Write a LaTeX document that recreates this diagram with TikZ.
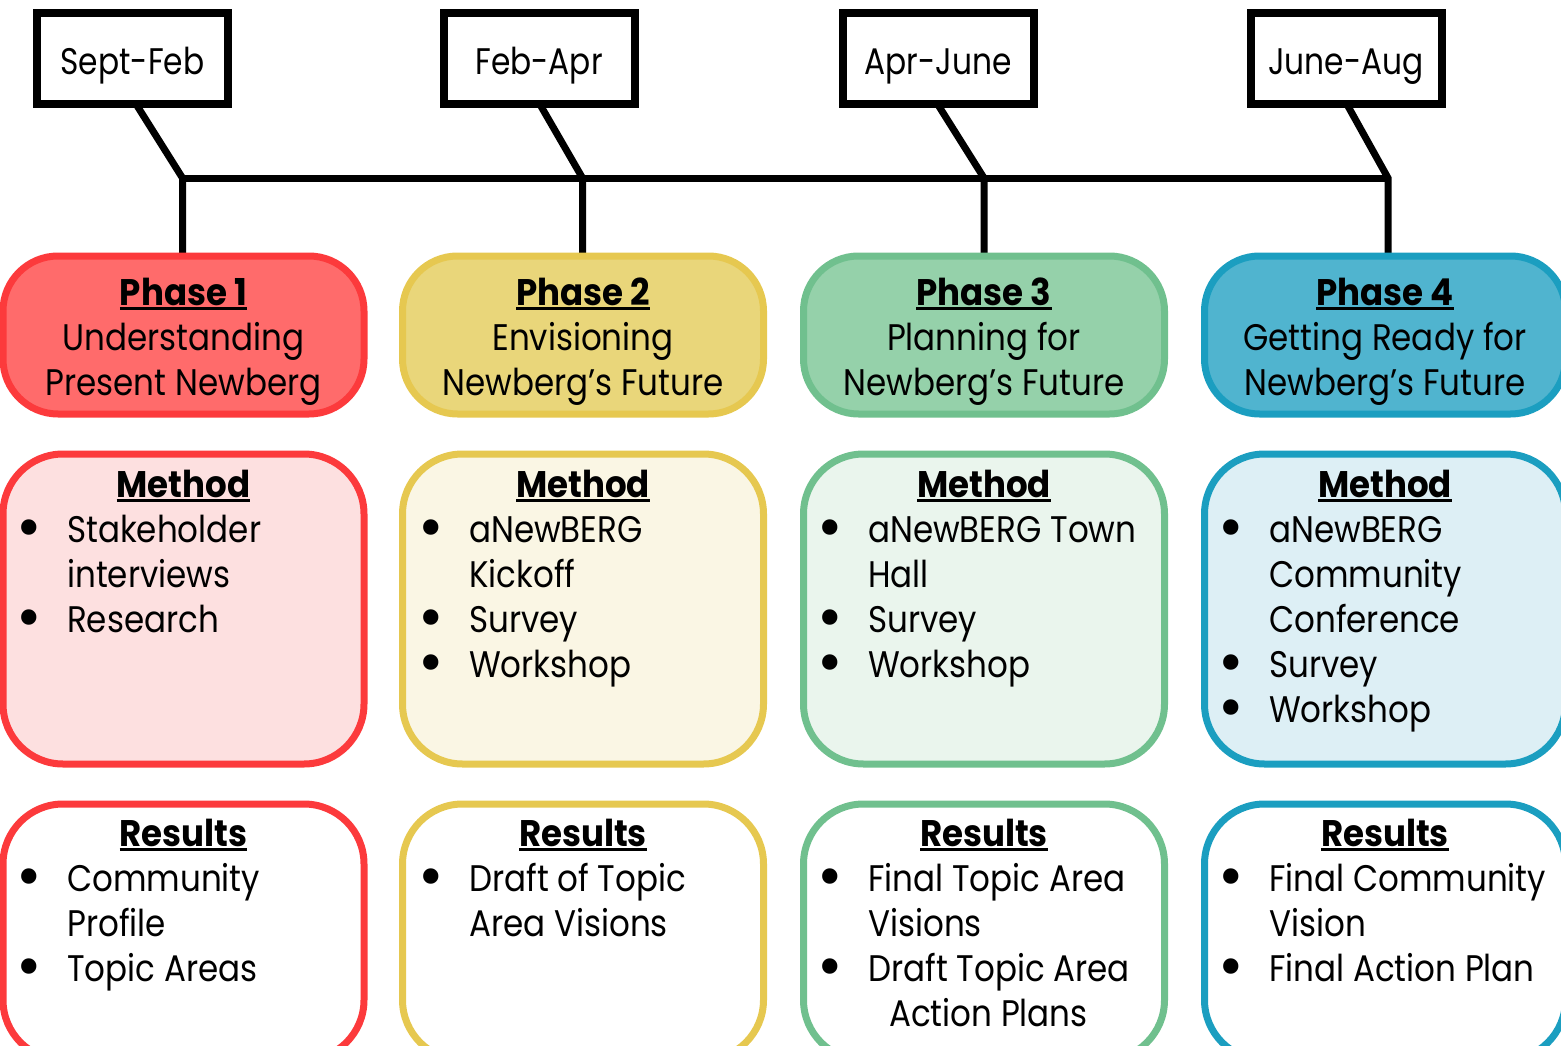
\documentclass[tikz,border=0pt]{standalone}
\usepackage{fontspec}
\setmainfont{Poppins}[FakeStretch=0.88]
\newfontfamily\hdfont{Poppins}[FakeStretch=0.92]
\newfontfamily\dtfont{Poppins}[FakeStretch=0.845]
\usetikzlibrary{calc,backgrounds}
\definecolor{bA}{HTML}{FC3A3C}\definecolor{pA}{HTML}{FF6B6B}\definecolor{mA}{HTML}{FDE0E0}
\definecolor{bB}{HTML}{E6C850}\definecolor{pB}{HTML}{E9D67A}\definecolor{mB}{HTML}{FAF6E4}
\definecolor{bC}{HTML}{70C08E}\definecolor{pC}{HTML}{95D1AA}\definecolor{mC}{HTML}{EAF5ED}
\definecolor{bD}{HTML}{1B9EC0}\definecolor{pD}{HTML}{50B4CF}\definecolor{mD}{HTML}{DDEFF5}
\newcommand\fs{\fontsize{37}{45}\selectfont}
\newcommand\ul[1]{\setbox0\hbox{#1}\rlap{\rule[-5pt]{\wd0}{3pt}}\box0}
\newcommand\bul{\llap{\smash{\makebox[0pt]{\raisebox{-6.5pt}{\scalebox{1.9}[1.7]{\textbullet}}}}\hspace{38pt}}}
\newcommand\lines[4]{\foreach \t [count=\k] in {#4} {\node[txt,anchor=base west] (#1-\k) at (#2,{#3+45*(\k-1)}) {\t};}}
\tikzset{
  box/.style={draw, line width=7pt, rounded corners=55pt, minimum width=361pt, inner sep=0pt, outer sep=0pt},
  datebox/.style={draw, line width=8pt, minimum width=191pt, minimum height=91pt, fill=white, inner sep=0pt, font=\fs\dtfont, text height=41pt, text depth=8pt},
  conn/.style={line width=7pt},
  txt/.style={inner sep=0pt, font=\fs, text height=32pt, text depth=9pt},
  head/.style={inner sep=0pt, font=\fs\hdfont\bfseries, anchor=base, text height=32pt, text depth=9pt},
}
\begin{document}
\begin{tikzpicture}[x=1pt,y=-1pt]
\useasboundingbox (0,0) rectangle (1561,1046);
\clip (0,0) rectangle (1561,1046);
% date boxes
\node[datebox] (d1) at (132.5,58.5) {Sept-Feb};
\node[datebox] (d2) at (539,58.5) {Feb-Apr};
\node[datebox] (d3) at (938,58.5) {Apr-June};
\node[datebox] (d4) at (1346,58.5) {June-Aug};
% phase boxes
\node[box, draw=bA, fill=pA, minimum height=158pt] (p1) at (183.5,335) {};
\node[box, draw=bB, fill=pB, minimum height=158pt] (p2) at (583,335) {};
\node[box, draw=bC, fill=pC, minimum height=158pt] (p3) at (984,335) {};
\node[box, draw=bD, fill=pD, minimum height=158pt] (p4) at (1385,335) {};
% method boxes
\node[box, draw=bA, fill=mA, minimum height=310pt, rounded corners=60pt] (m1) at (183.5,609) {};
\node[box, draw=bB, fill=mB, minimum height=310pt, rounded corners=60pt] (m2) at (583,609) {};
\node[box, draw=bC, fill=mC, minimum height=310pt, rounded corners=60pt] (m3) at (984,609) {};
\node[box, draw=bD, fill=mD, minimum height=310pt, rounded corners=60pt] (m4) at (1385,609) {};
% results boxes
\node[box, draw=bA, fill=white, minimum height=256pt, rounded corners=60pt] (r1) at (183.5,932) {};
\node[box, draw=bB, fill=white, minimum height=256pt, rounded corners=60pt] (r2) at (583,932) {};
\node[box, draw=bC, fill=white, minimum height=256pt, rounded corners=60pt] (r3) at (984,932) {};
\node[box, draw=bD, fill=white, minimum height=256pt, rounded corners=60pt] (r4) at (1385,932) {};
% connectors
\coordinate (j1) at (182.5,178);
\coordinate (j2) at (582.5,178);
\coordinate (j3) at (984,178);
\coordinate (j4) at (1388,178);
\coordinate (s1) at ([xshift=6pt]d1.south);
\coordinate (s2) at ([xshift=3pt]d2.south);
\coordinate (s3) at ([xshift=2pt]d3.south);
\coordinate (s4) at ([xshift=3pt]d4.south);
\begin{scope}[on background layer]
\foreach \i in {1,2,3,4} {
  \draw[conn] ($(j\i)!1.4!(s\i)$) -- (j\i) -- (j\i |- p\i.center);
}
\draw[conn] (j1) -- (j4);
\end{scope}
% phase texts
\node[head] (h1) at (183.5,305) {\ul{Phase 1}};
\node[txt,anchor=base] (h1a) at (183.5,350) {Understanding};
\node[txt,anchor=base] (h1b) at (183.5,395) {Present Newberg};
\node[head] (h2) at (583,305) {\ul{Phase 2}};
\node[txt,anchor=base] (h2a) at (583,350) {Envisioning};
\node[txt,anchor=base] (h2b) at (583,395) {Newberg’s Future};
\node[head] (h3) at (984,305) {\ul{Phase 3}};
\node[txt,anchor=base] (h3a) at (984,350) {Planning for};
\node[txt,anchor=base] (h3b) at (984,395) {Newberg’s Future};
\node[head] (h4) at (1385,305) {\ul{Phase 4}};
\node[txt,anchor=base] (h4a) at (1385,350) {Getting Ready for};
\node[txt,anchor=base] (h4b) at (1385,395) {Newberg’s Future};
% method texts
\node[head] (mh1) at (183.5,497) {\ul{Method}};
\node[head] (mh2) at (583,497) {\ul{Method}};
\node[head] (mh3) at (984,497) {\ul{Method}};
\node[head] (mh4) at (1385,497) {\ul{Method}};
\lines{ma}{67}{542}{\bul Stakeholder, interviews, \bul Research}
\lines{mb}{469}{542}{\bul aNewBERG, Kickoff, \bul Survey, \bul Workshop}
\lines{mc}{868}{542}{\bul aNewBERG Town, Hall, \bul Survey, \bul Workshop}
\lines{md}{1269}{542}{\bul aNewBERG, Community, Conference, \bul Survey, \bul Workshop}
% results texts
\node[head] (rh1) at (183.5,846) {\ul{Results}};
\node[head] (rh2) at (583,846) {\ul{Results}};
\node[head] (rh3) at (984,846) {\ul{Results}};
\node[head] (rh4) at (1385,846) {\ul{Results}};
\lines{ra}{67}{891}{\bul Community, Profile, \bul Topic Areas}
\lines{rb}{469}{891}{\bul Draft of Topic, Area Visions}
\lines{rc}{868}{891}{\bul Final Topic Area, Visions, \bul Draft Topic Area, \hspace*{21pt}Action Plans}
\lines{rd}{1269}{891}{\bul Final Community, Vision, \bul Final Action Plan}
\end{tikzpicture}
\end{document}
